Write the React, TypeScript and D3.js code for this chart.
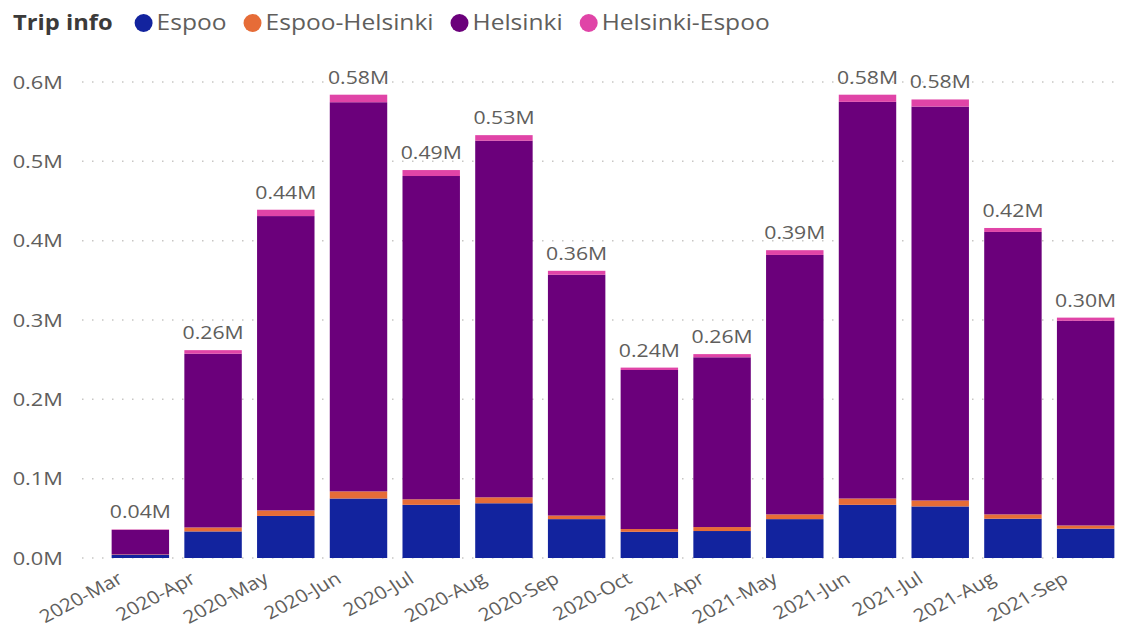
import React, { useEffect, useRef } from "react";
import * as d3 from "d3";

const categories = [
  "2020-Mar", "2020-Apr", "2020-May", "2020-Jun", "2020-Jul", "2020-Aug", "2020-Sep",
  "2020-Oct", "2021-Apr", "2021-May", "2021-Jun", "2021-Jul", "2021-Aug", "2021-Sep",
];
const seriesNames = ["Espoo", "Espoo-Helsinki", "Helsinki", "Helsinki-Espoo"];
const espoo = [4000, 33500, 53000, 75000, 67000, 69000, 49000, 33000, 34000, 49000, 67000, 65000, 49500, 37000];
const espooHelsinki = [500, 5000, 7000, 9000, 7000, 7500, 4500, 3500, 5000, 6000, 8000, 7500, 5500, 4000];
const helsinki = [31000, 219000, 371000, 490500, 407500, 449500, 303500, 200500, 214000, 327000, 500000, 496500, 356000, 258000];
const helsinkiEspoo = [500, 4500, 8000, 9500, 7500, 7000, 5000, 3000, 4000, 6000, 9000, 9000, 5000, 4000];
const yTicks = [0, 100000, 200000, 300000, 400000, 500000, 600000];
const legendTitle = "Trip info";
const colors = ["#12239E", "#E66C37", "#6B007B", "#E044A7"];

const W = 1131;
const H = 628;
const FONT = "'Segoe UI', 'Open Sans', sans-serif";
const TEXT = "#605E5C";
const SX = 1.17;

export default function App() {
  const ref = useRef<SVGSVGElement | null>(null);

  useEffect(() => {
    const svg = d3.select(ref.current);
    svg.selectAll("*").remove();

    const rows = categories.map((c, i) => ({
      cat: c,
      Espoo: espoo[i],
      "Espoo-Helsinki": espooHelsinki[i],
      Helsinki: helsinki[i],
      "Helsinki-Espoo": helsinkiEspoo[i],
    }));
    const totals = categories.map((_, i) => espoo[i] + espooHelsinki[i] + helsinki[i] + helsinkiEspoo[i]);

    const x = d3.scaleBand<string>().domain(categories).range([104, 1122]).paddingInner(0.21).paddingOuter(0.105);
    const y = d3.scaleLinear().domain([0, 600000]).range([558, 82]);

    // grid
    const g = svg.append("g");
    g.selectAll("line.grid")
      .data(yTicks)
      .join("line")
      .attr("x1", 82)
      .attr("x2", 1122)
      .attr("y1", (d) => y(d))
      .attr("y2", (d) => y(d))
      .attr("stroke", "#C8C6C4")
      .attr("stroke-width", 1.5)
      .attr("stroke-dasharray", "1.5,8.5");

    g.selectAll("g.ytick")
      .data(yTicks)
      .join("g")
      .attr("transform", (d) => `translate(63,${y(d)}) scale(1.15,1)`)
      .append("text")
      .attr("dy", "0.35em")
      .attr("text-anchor", "end")
      .attr("font-family", FONT)
      .attr("font-size", 19)
      .attr("fill", TEXT)
      .text((d) => (d / 1e6).toFixed(1) + "M");

    const stack = d3.stack<any>().keys(seriesNames)(rows);
    svg
      .append("g")
      .selectAll("g")
      .data(stack)
      .join("g")
      .attr("fill", (_, i) => colors[i])
      .selectAll("rect")
      .data((d) => d)
      .join("rect")
      .attr("x", (d: any) => x(d.data.cat)!)
      .attr("width", x.bandwidth())
      .attr("y", (d) => y(d[1]))
      .attr("height", (d) => Math.max(0, y(d[0]) - y(d[1])));

    // data labels
    svg
      .append("g")
      .selectAll("g")
      .data(categories)
      .join("g")
      .attr("transform", (c, i) => `translate(${x(c)! + x.bandwidth() / 2},${y(totals[i]) - 11}) scale(1.18,1)`)
      .append("text")
      .attr("text-anchor", "middle")
      .attr("font-family", FONT)
      .attr("font-size", 18)
      .attr("fill", TEXT)
      .text((_, i) => (totals[i] / 1e6).toFixed(2) + "M");

    // x labels
    svg
      .append("g")
      .selectAll("g")
      .data(categories)
      .join("g")
      .attr("transform", (c) => `translate(${x(c)! + x.bandwidth() / 2 - 16},${582}) scale(1.15,1) rotate(-31)`)
      .append("text")
      .attr("text-anchor", "end")
      .attr("font-family", FONT)
      .attr("font-size", 18)
      .attr("fill", TEXT)
      .text((c) => c);

    // legend
    const lg = svg.append("g");
    const tg = lg.append("g").attr("transform", `translate(13,23) scale(1.13,1)`);
    const title = tg
      .append("text")
      .attr("dy", "0.35em")
      .attr("font-family", FONT)
      .attr("font-size", 21)
      .attr("font-weight", "bold")
      .attr("fill", "#3B3A39")
      .text(legendTitle);
    let cx = 13 + (title.node() as SVGTextElement).getComputedTextLength() * 1.13 + 31;
    seriesNames.forEach((name, i) => {
      lg.append("circle").attr("cx", cx).attr("cy", 23).attr("r", 9).attr("fill", colors[i]);
      const t = lg
        .append("g")
        .attr("transform", `translate(${cx + 13},23) scale(${SX},1)`)
        .append("text")
        .attr("dy", "0.35em")
        .attr("font-family", FONT)
        .attr("font-size", 21)
        .attr("fill", TEXT)
        .text(name);
      cx = cx + 13 + (t.node() as SVGTextElement).getComputedTextLength() * SX + 26;
    });
  }, []);

  return (
    <svg ref={ref} width={W} height={H} style={{ display: "block", position: "absolute", left: 0, top: 0 }} />
  );
}
